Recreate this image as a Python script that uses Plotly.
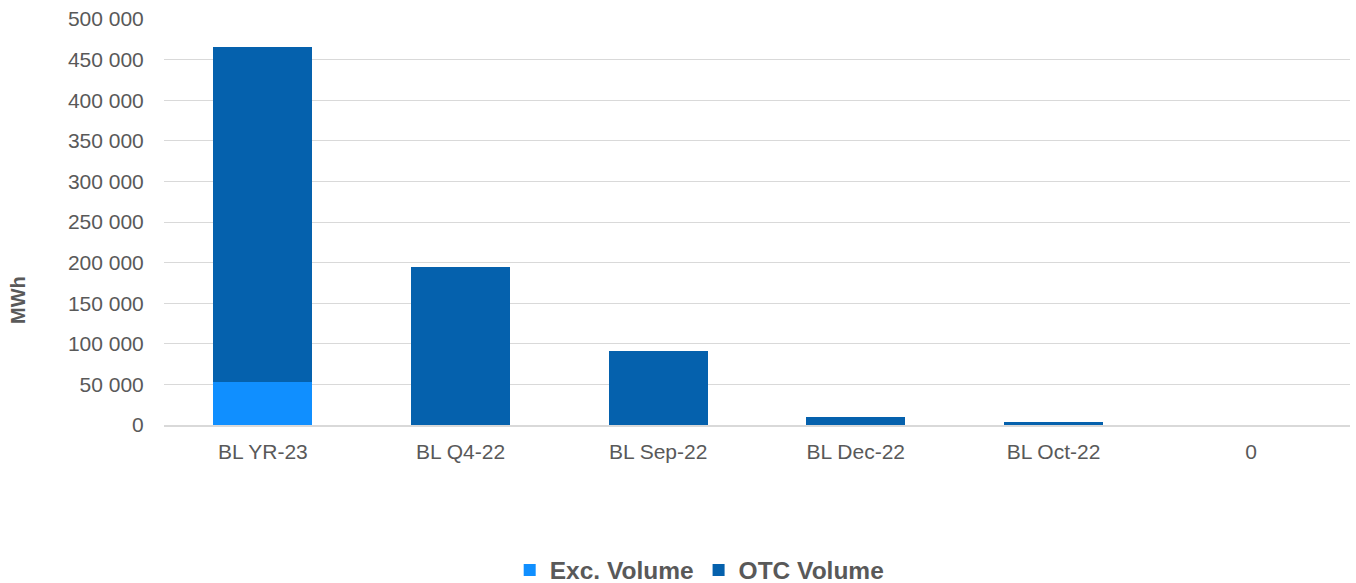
import plotly.graph_objects as go

categories = ["BL YR-23", "BL Q4-22", "BL Sep-22", "BL Dec-22", "BL Oct-22", "0"]
exc_volume = [53000, 0, 0, 0, 0, 0]
otc_volume = [412000, 195000, 91000, 10000, 3700, 0]

font_family = "Liberation Sans, Arial, sans-serif"
text_color = "#595959"
fs = 21

fig = go.Figure()
fig.add_trace(go.Bar(name="Exc. Volume", x=categories, y=exc_volume,
                     marker=dict(color="#108FFF", line=dict(width=0))))
fig.add_trace(go.Bar(name="OTC Volume", x=categories, y=otc_volume,
                     marker=dict(color="#0561AD", line=dict(width=0))))

fig.update_layout(
    barmode="stack",
    bargap=0.5,
    width=1356, height=583,
    margin=dict(l=164, r=6, t=19, b=158),
    paper_bgcolor="white", plot_bgcolor="white",
    separators=". ",
    font=dict(family=font_family, size=fs, color=text_color),
    legend=dict(orientation="h", xref="container", yref="container",
                x=0.516, xanchor="center", y=1 - 570 / 583, yanchor="middle",
                font=dict(family=font_family, size=24.5, color=text_color, weight="bold"),
                traceorder="normal", itemwidth=30),
    showlegend=True,
    annotations=[dict(text="<b>MWh</b>", x=0, xref="paper", xshift=-146,
                      y=(425 - 300) / 406, yref="paper",
                      textangle=-90, showarrow=False, xanchor="center", yanchor="middle",
                      font=dict(size=20, color=text_color))],
)

fig.update_xaxes(type="category", automargin=False, showgrid=False, showline=True,
                 linecolor="#d9d9d9", linewidth=1.5,
                 ticks="outside", ticklen=7, tickcolor="rgba(0,0,0,0)",
                 tickfont=dict(size=fs, color=text_color))
fig.update_yaxes(range=[0, 500000], dtick=50000,
                 tickformat=",d", automargin=False,
                 showgrid=True, gridcolor="#d9d9d9", gridwidth=1.2, zeroline=False,
                 ticks="outside", ticklen=15, tickcolor="rgba(0,0,0,0)",
                 tickfont=dict(size=fs, color=text_color))
fig.write_html("out.html", config={"displayModeBar": False},
               post_script="document.body.style.margin='0';")
